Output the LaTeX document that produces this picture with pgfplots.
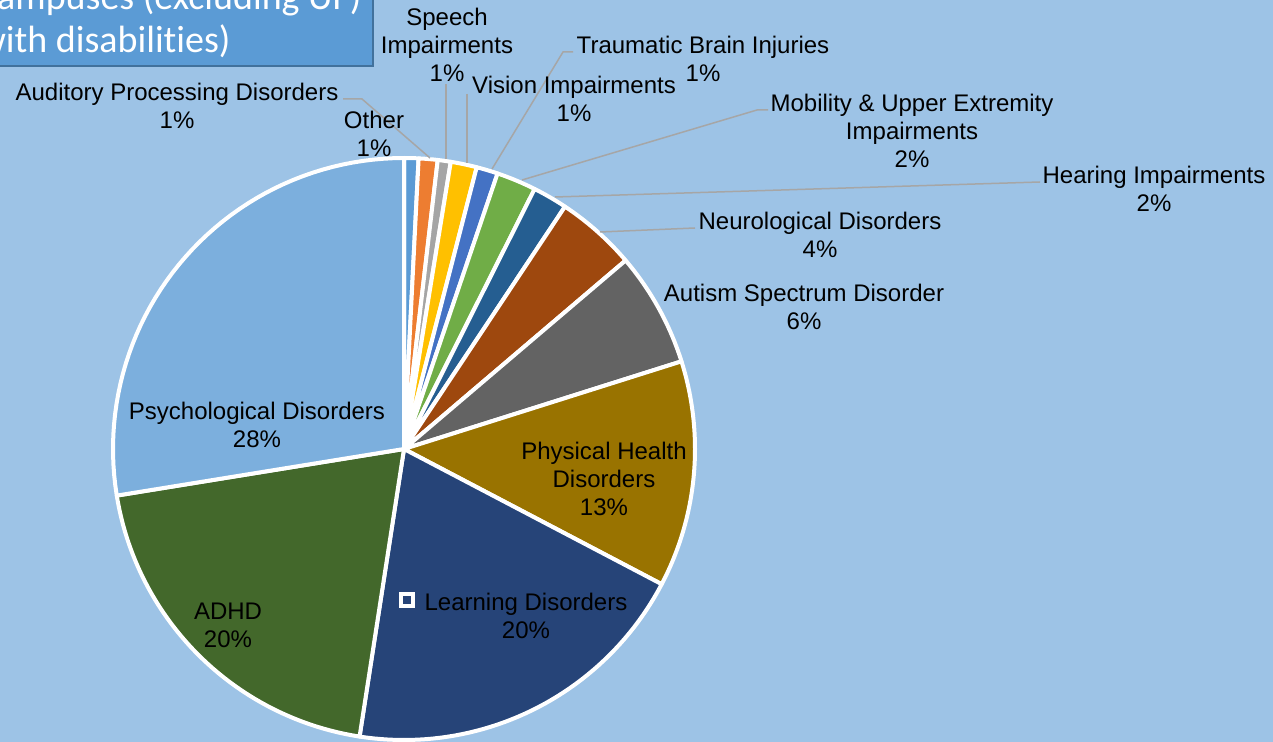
\documentclass[border=0pt]{standalone}
\usepackage{pgfplots}
\usepackage{pgfplotstable}
\pgfplotsset{compat=1.18}
\usepackage{fontspec}
\setmainfont{Liberation Sans}
\newfontfamily\carlito[Ligatures=NoCommon]{Carlito}

\definecolor{bg}{HTML}{9DC3E6}
\definecolor{titlefill}{HTML}{5B9BD5}
\definecolor{titleborder}{HTML}{41719C}
\definecolor{leader}{HTML}{A6A6A6}
\definecolor{s0}{HTML}{5B9BD5}
\definecolor{s1}{HTML}{ED7D31}
\definecolor{s2}{HTML}{A5A5A5}
\definecolor{s3}{HTML}{FFC000}
\definecolor{s4}{HTML}{4472C4}
\definecolor{s5}{HTML}{70AD47}
\definecolor{s6}{HTML}{255E91}
\definecolor{s7}{HTML}{9E480E}
\definecolor{s8}{HTML}{636363}
\definecolor{s9}{HTML}{997300}
\definecolor{s10}{HTML}{264478}
\definecolor{s11}{HTML}{43682B}
\definecolor{s12}{HTML}{7CAFDD}

\tikzset{
  lbl/.style={align=center, inner sep=0pt, text=black, font=\fontsize{12}{14}\selectfont},
  ldr/.style={draw=leader, line width=0.75pt},
}

% share of students (percent), clockwise from 12 o'clock
\pgfplotstableread[col sep=comma]{
name,value
Other,0.80
AuditoryProcessing,1.05
Speech,0.72
Vision,1.45
TraumaticBrain,1.19
MobilityUpperExtremity,2.20
Hearing,1.92
Neurological,4.45
Autism,6.35
PhysicalHealth,12.56
Learning,19.75
ADHD,20.00
Psychological,27.56
}\piedata

\begin{document}
\begin{tikzpicture}
\begin{axis}[
  scale only axis, width=636.5pt, height=371pt,
  xmin=0, xmax=1273, ymin=0, ymax=742, y dir=reverse,
  hide axis, clip=false,
]
\fill[bg] (rel axis cs:0,0) rectangle (rel axis cs:1,1);
\coordinate (A) at (rel axis cs:0,0);
\coordinate (B) at (rel axis cs:1,1);

\xdef\cum{0}
\foreach \i in {0,...,12} {
  \pgfplotstablegetelem{\i}{value}\of\piedata
  \pgfmathsetmacro{\a}{\cum*3.6}
  \pgfmathsetmacro{\b}{(\cum+\pgfplotsretval)*3.6}
  \pgfmathsetmacro{\newcum}{\cum+\pgfplotsretval}
  \global\let\cum\newcum
  \edef\temp{\noexpand\addplot[fill=s\i, draw=white, line width=2pt, line join=round, domain=\a:\b, samples=50, variable=\noexpand\t] ({404+291*sin(\noexpand\t)},{449-291*cos(\noexpand\t)}) -- (404,449) -- cycle;}
  \temp
}

% title box (cut by the page edge)
\draw[fill=titlefill, draw=titleborder, line width=1pt] (-60,-60) rectangle (373,66);
\node[anchor=base east, inner sep=0pt, text=white, font=\carlito\fontsize{19}{22}\selectfont] at (362,10) {campuses (excluding UF)};
\node[anchor=base east, inner sep=0pt, text=white, font=\carlito\fontsize{19}{22}\selectfont] at (231,53) {with disabilities)};

% leader lines
\draw[ldr] (343,99) -- (362,99) -- (430,158);
\draw[ldr] (446,84) -- (446,159);
\draw[ldr] (467,94) -- (467,163);
\draw[ldr] (573,52) -- (563,52) -- (492,169);
\draw[ldr] (768,110) -- (757,110) -- (522,180);
\draw[ldr] (1040,182) -- (555,197);
\draw[ldr] (695,228) -- (600,232);

% labels
\node[lbl] at (447,45) {Speech\\Impairments\\1\%};
\node[lbl] at (703,59) {Traumatic Brain Injuries\\1\%};
\node[lbl] at (574,99) {Vision Impairments\\1\%};
\node[lbl] at (177,106) {Auditory Processing Disorders\\1\%};
\node[lbl] at (374,134) {Other\\1\%};
\node[lbl] at (912,131) {Mobility \& Upper Extremity\\Impairments\\2\%};
\node[lbl] at (1154,189) {Hearing Impairments\\2\%};
\node[lbl] at (820,235) {Neurological Disorders\\4\%};
\node[lbl] at (804,307) {Autism Spectrum Disorder\\6\%};
\node[lbl] at (604,479) {Physical Health\\Disorders\\13\%};
\node[lbl] at (526,616) {Learning Disorders\\20\%};
\node[lbl] at (257,425) {Psychological Disorders\\28\%};
\node[lbl] at (228,625) {ADHD\\20\%};
\draw[white, line width=2pt] (401,594) rectangle (413,606);
\end{axis}
\pgfresetboundingbox
\useasboundingbox (A) rectangle (B);
\end{tikzpicture}
\end{document}
